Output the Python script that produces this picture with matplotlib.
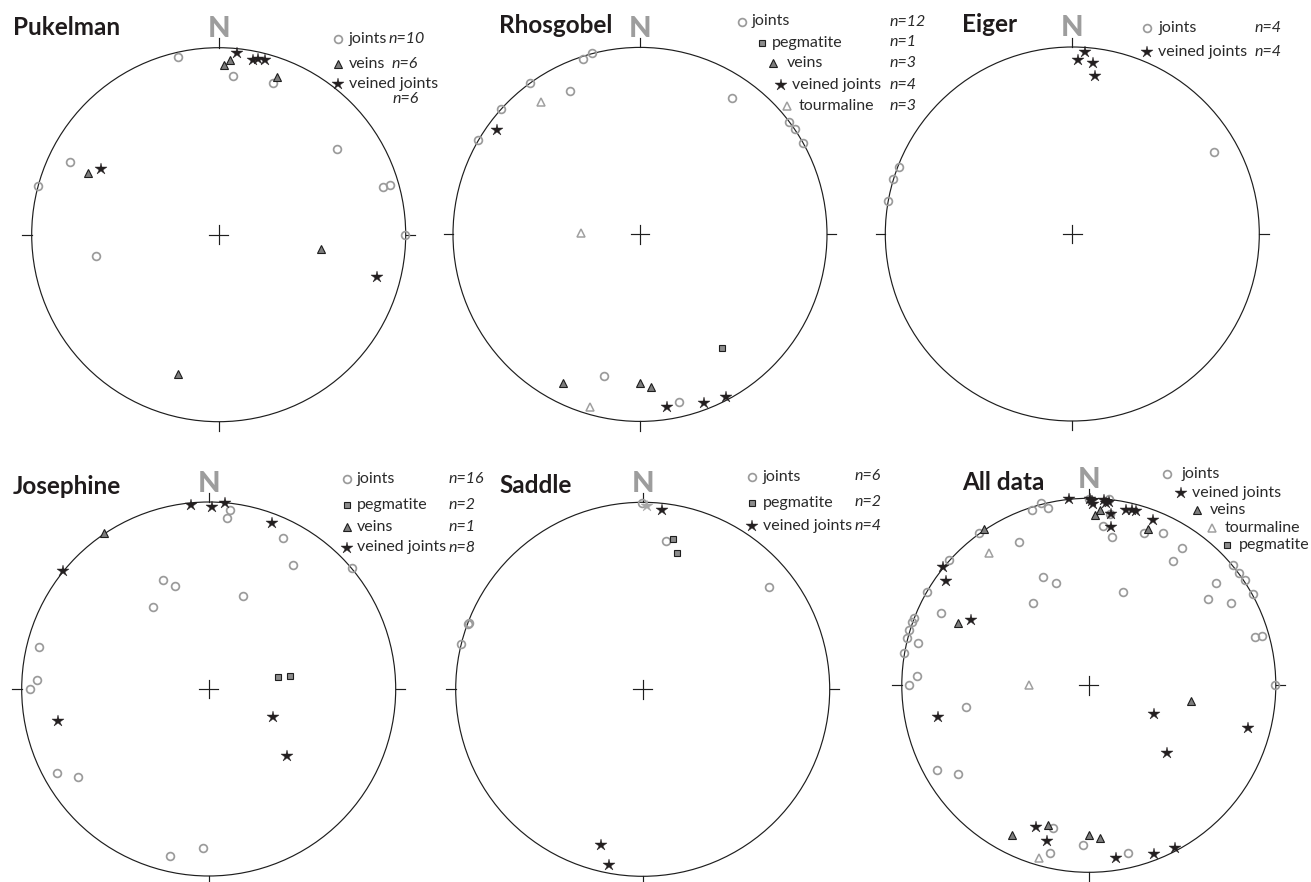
import matplotlib
matplotlib.use("Agg")
import matplotlib.pyplot as plt
from matplotlib.lines import Line2D
from matplotlib.patches import Circle

plt.rcParams['font.family'] = ['Lato', 'DejaVu Sans']

W, H = 1311, 882
R = 187  # radius of the primitive circle, px

# Poles on the equal-area net, in units of the primitive radius (x = east, y = north)
puk_joints = [(-0.219, 0.950), (0.075, 0.850), (0.292, 0.811), (-0.795, 0.387), (-0.968, 0.260),
              (0.631, 0.460), (0.881, 0.255), (0.916, 0.266), (0.996, 0.0), (-0.656, -0.114)]
puk_veins = [(0.030, 0.907), (0.062, 0.934), (0.310, 0.841), (-0.701, 0.332), (0.545, -0.078),
             (-0.216, -0.745)]
puk_veined = [(0.100, 0.970), (0.185, 0.934), (0.212, 0.939), (0.248, 0.934), (-0.629, 0.349),
              (0.848, -0.225)]

rho_joints = [(-0.258, 0.968), (-0.303, 0.936), (-0.588, 0.811), (-0.374, 0.768), (-0.745, 0.670),
              (-0.865, 0.504), (0.492, 0.731), (0.797, 0.602), (0.829, 0.561), (0.873, 0.487),
              (-0.191, -0.758), (0.207, -0.895)]
rho_pegmatite = [(0.440, -0.606)]
rho_veins = [(-0.410, -0.797), (0.0, -0.797), (0.057, -0.818)]
rho_veined = [(-0.766, 0.558), (0.146, -0.925), (0.344, -0.900), (0.460, -0.868)]
rho_tourmaline = [(-0.529, 0.709), (-0.317, 0.005), (-0.266, -0.922)]

eig_joints = [(-0.929, 0.360), (-0.957, 0.292), (-0.984, 0.175), (0.758, 0.437)]
eig_veined = [(0.070, 0.975), (0.032, 0.930), (0.112, 0.916), (0.121, 0.845)]

jos_joints = [(0.114, 0.959), (0.096, 0.913), (0.396, 0.809), (0.449, 0.665), (0.765, 0.645),
              (-0.246, 0.583), (-0.178, 0.549), (-0.296, 0.440), (0.182, 0.499), (-0.907, 0.226),
              (-0.916, 0.048), (-0.955, 0.0), (-0.809, -0.449), (-0.697, -0.471), (-0.207, -0.893),
              (-0.029, -0.848)]
jos_pegmatite = [(0.373, 0.066), (0.435, 0.068)]
jos_veins = [(-0.558, 0.832)]
jos_veined = [(-0.094, 0.986), (0.016, 0.973), (0.087, 0.993), (0.340, 0.886), (-0.777, 0.633),
              (-0.804, -0.169), (0.346, -0.152), (0.417, -0.360)]

sad_joints = [(-0.005, 0.995), (0.125, 0.793), (0.677, 0.547), (-0.936, 0.351), (-0.931, 0.357),
              (-0.970, 0.241)]
sad_pegmatite = [(0.160, 0.806), (0.185, 0.727)]
sad_veined = [(0.103, 0.957), (-0.221, -0.834), (-0.178, -0.939)]
sad_veined_faint = [(0.025, 0.980)]

all_joints = [(0.0, 0.998), (0.106, 0.994), (-0.258, 0.973), (-0.302, 0.938), (-0.217, 0.950),
              (0.113, 0.916), (0.074, 0.852), (0.126, 0.795), (0.295, 0.815), (0.395, 0.813),
              (0.496, 0.733), (0.452, 0.667), (0.769, 0.643), (0.803, 0.602), (0.835, 0.563),
              (0.880, 0.487), (0.680, 0.549), (0.635, 0.460), (0.758, 0.439), (0.184, 0.501),
              (0.889, 0.257), (0.924, 0.266), (0.998, 0.0), (-0.587, 0.813), (-0.373, 0.768),
              (-0.746, 0.670), (-0.247, 0.581), (-0.177, 0.549), (-0.297, 0.442), (-0.867, 0.501),
              (-0.792, 0.385), (-0.935, 0.362), (-0.944, 0.340), (-0.962, 0.296), (-0.971, 0.251),
              (-0.912, 0.228), (-0.987, 0.175), (-0.921, 0.050), (-0.960, 0.0), (-0.657, -0.118),
              (-0.814, -0.453), (-0.698, -0.474), (-0.190, -0.761), (-0.029, -0.854),
              (-0.208, -0.898), (0.208, -0.898)]
all_veined = [(-0.106, 0.994), (0.006, 0.995), (0.015, 0.986), (0.024, 0.971), (0.081, 0.993),
              (0.092, 0.975), (0.106, 0.979), (0.117, 0.916), (0.120, 0.847), (0.201, 0.939),
              (0.229, 0.939), (0.252, 0.934), (0.341, 0.886), (-0.778, 0.635), (-0.766, 0.560),
              (-0.628, 0.349), (-0.807, -0.169), (0.347, -0.155), (0.418, -0.364), (0.853, -0.226),
              (-0.283, -0.756), (-0.224, -0.832), (0.145, -0.925), (0.347, -0.900), (0.463, -0.870)]
all_veins = [(0.033, 0.911), (0.060, 0.936), (0.315, 0.838), (-0.559, 0.836), (-0.698, 0.332),
             (0.546, -0.082), (-0.411, -0.799), (-0.220, -0.747), (0.0, -0.799), (0.060, -0.816)]
all_tourmaline = [(-0.532, 0.709), (-0.318, 0.002), (-0.265, -0.922)]

STYLE = {
    'joints': dict(marker='o', ms=5.6, mfc='none', mec='#9b9b9b', mew=1.25),
    'pegmatite': dict(marker='s', ms=5.0, mfc='#8c8c8c', mec='#1e1e1e', mew=0.8),
    'veins': dict(marker='^', ms=5.8, mfc='#7d7d7d', mec='#1e1e1e', mew=0.8),
    'tourmaline': dict(marker='^', ms=6.2, mfc='white', mec='#a0a0a0', mew=1.1),
    'veined joints': dict(marker='*', ms=8.8, mfc='#231f20', mec='#231f20', mew=0.3),
    'faint': dict(marker='*', ms=8.8, mfc='#a8a8a8', mec='#a8a8a8', mew=0.3),
}
DRAW_ORDER = ['joints', 'pegmatite', 'veins', 'tourmaline', 'faint', 'veined joints']

panels = [
    dict(title='Pukelman', centre=(218.7, 234.7), title_at=(13, 35), n_base=36.7,
         data={'joints': puk_joints, 'veins': puk_veins, 'veined joints': puk_veined},
         legend=[('joints', 338, 39, 349, 'n=10', 389, None),
                 ('veins', 338, 64, 349, 'n=6', 392, None),
                 ('veined joints', 338, 84, 349, 'n=6', 393, 103)]),
    dict(title='Rhosgobel', centre=(640, 234.4), title_at=(499, 33.3), n_base=36.7,
         data={'joints': rho_joints, 'pegmatite': rho_pegmatite, 'veins': rho_veins,
               'veined joints': rho_veined, 'tourmaline': rho_tourmaline},
         legend=[('joints', 741.7, 21.7, 751.7, 'n=12', 890, None),
                 ('pegmatite', 762, 42.7, 771.7, 'n=1', 890, None),
                 ('veins', 773.3, 63.3, 786.7, 'n=3', 890, None),
                 ('veined joints', 780.7, 85, 791.7, 'n=4', 890, None),
                 ('tourmaline', 786.7, 106, 798.3, 'n=3', 890, None)]),
    dict(title='Eiger', centre=(1072.3, 234), title_at=(962, 31.7), n_base=36,
         data={'joints': eig_joints, 'veined joints': eig_veined},
         legend=[('joints', 1147.3, 28.3, 1158.3, 'n=4', 1255, None),
                 ('veined joints', 1147.3, 52.3, 1158.3, 'n=4', 1255, None)]),
    dict(title='Josephine', centre=(208.7, 689), title_at=(13, 494.3), n_base=491.7,
         data={'joints': jos_joints, 'pegmatite': jos_pegmatite, 'veins': jos_veins,
               'veined joints': jos_veined},
         legend=[('joints', 346.7, 479.3, 356.7, 'n=16', 448.3, None),
                 ('pegmatite', 346.7, 505, 356.7, 'n=2', 448.3, None),
                 ('veins', 346.7, 527, 356.7, 'n=1', 448.3, None),
                 ('veined joints', 346.7, 547.7, 356.7, 'n=8', 448.3, None)]),
    dict(title='Saddle', centre=(642.7, 689.3), title_at=(499, 493), n_base=491.7,
         data={'joints': sad_joints, 'pegmatite': sad_pegmatite, 'faint': sad_veined_faint,
               'veined joints': sad_veined},
         legend=[('joints', 752.3, 476.7, 762.7, 'n=6', 855, None),
                 ('pegmatite', 752.3, 502.7, 762.7, 'n=2', 855, None),
                 ('veined joints', 752.3, 526, 762.7, 'n=4', 855, None)]),
    dict(title='All data', centre=(1088.8, 685.3), title_at=(962, 490), n_base=487.7,
         data={'joints': all_joints, 'veins': all_veins, 'tourmaline': all_tourmaline,
               'veined joints': all_veined},
         legend=[('joints', 1166.7, 474.3, 1181.7, None, None, None),
                 ('veined joints', 1180.7, 493.3, 1191.7, None, None, None),
                 ('veins', 1196.7, 510.3, 1210, None, None, None),
                 ('tourmaline', 1211.7, 527.7, 1225, None, None, None),
                 ('pegmatite', 1227.3, 545, 1239.3, None, None, None)]),
]


def fx(x):
    return x / W


def fy(y):
    return 1 - y / H


fig = plt.figure(figsize=(W / 100, H / 100), dpi=100)
ink = '#1e1e1e'
lw = 0.85

for p in panels:
    cx, cy = p['centre']
    ax = fig.add_axes([fx(cx - 1.2 * R), fy(cy + 1.2 * R), 2.4 * R / W, 2.4 * R / H])
    ax.set_xlim(-1.2, 1.2)
    ax.set_ylim(-1.2, 1.2)
    ax.axis('off')

    # primitive circle, outer ticks and centre cross
    ax.add_patch(Circle((0, 0), 1, fill=False, lw=lw, ec=ink))
    for sx, sy in [(1, 0), (-1, 0), (0, 1), (0, -1)]:
        ax.plot([sx, sx * 1.05], [sy, sy * 1.05], color=ink, lw=lw)
    ax.plot([-0.05, 0.05], [0, 0], color=ink, lw=lw)
    ax.plot([0, 0], [-0.05, 0.05], color=ink, lw=lw)

    for cat in DRAW_ORDER:
        pts = p['data'].get(cat)
        if not pts:
            continue
        xs = [q[0] for q in pts]
        ys = [q[1] for q in pts]
        ax.plot(xs, ys, ls='none', clip_on=False, **STYLE[cat])

    # title and north label
    tx, tb = p['title_at']
    fig.text(fx(tx), fy(tb), p['title'], fontsize=17.5, fontweight='bold', color='#1f1b1c',
             va='baseline', ha='left')
    fig.text(fx(cx), fy(p['n_base']), 'N', fontsize=21, fontweight='black', color='#9d9d9d',
             va='baseline', ha='center')

    # hand-placed legend
    for cat, mx, my, tx2, ntxt, nx, nb in p['legend']:
        fig.add_artist(Line2D([fx(mx)], [fy(my)], transform=fig.transFigure, ls='none',
                              **STYLE[cat]))
        base = my + 3.8
        fig.text(fx(tx2), fy(base), cat, fontsize=11.5, color='#2a2a2a', va='baseline', ha='left')
        if ntxt:
            fig.text(fx(nx), fy(nb if nb else base), ntxt, fontsize=11.5, style='italic',
                     color='#2a2a2a', va='baseline', ha='left')

fig.savefig('out.png', dpi=100)
